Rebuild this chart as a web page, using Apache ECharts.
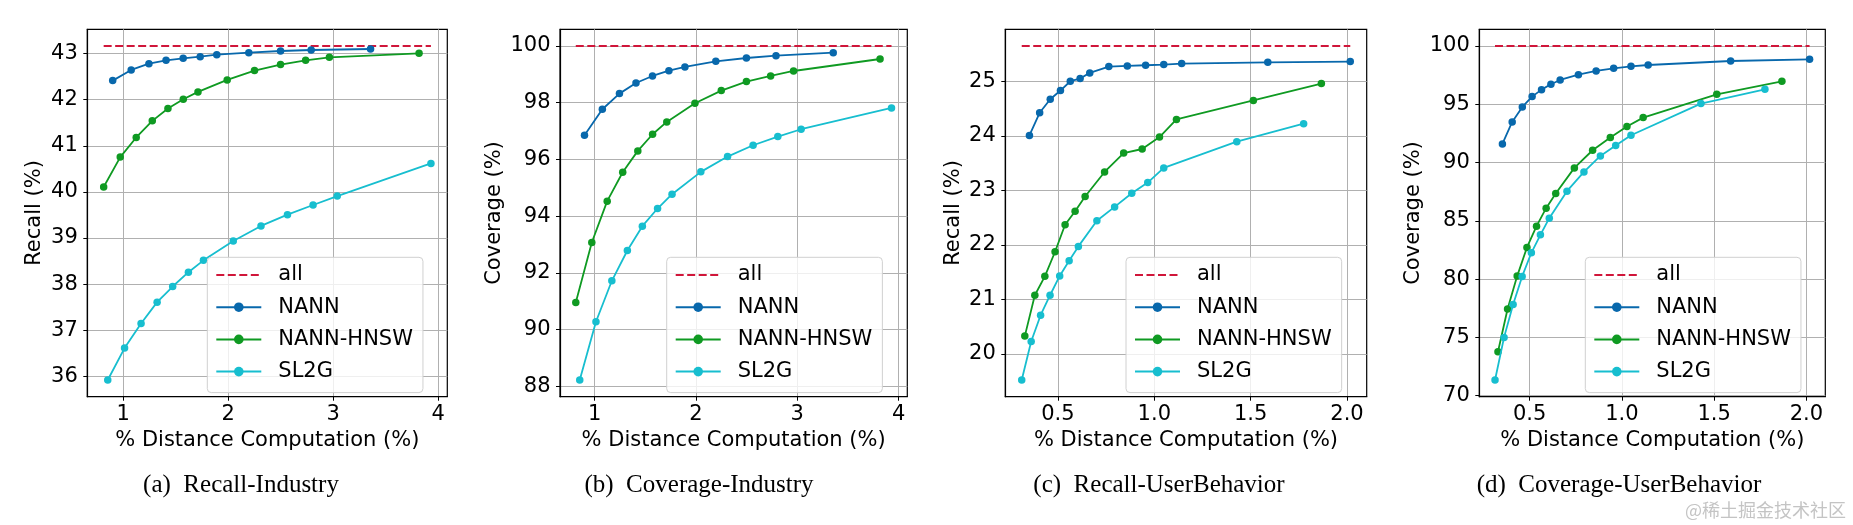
<!DOCTYPE html>
<html><head><meta charset="utf-8">
<script src="https://cdn.jsdelivr.net/npm/echarts@6/dist/echarts.min.js"></script>
<style>html,body{margin:0;padding:0;background:#fff}#c{width:1853px;height:525px}</style>
</head><body><div id="c"></div>
<script>
// ---- Industry dataset (panels a, b) ----
const xIndNANN = [0.90, 1.076, 1.245, 1.408, 1.571, 1.733, 1.891, 2.196, 2.498, 2.79, 3.355];
const xIndHNSW = [0.814, 0.972, 1.124, 1.277, 1.426, 1.572, 1.712, 1.99, 2.25, 2.498, 2.737, 2.963, 3.817];
const xIndSL2G = [0.853, 1.013, 1.17, 1.323, 1.471, 1.621, 1.764, 2.048, 2.312, 2.564, 2.808, 3.038, 3.93];
const recallIndNANN = [42.415, 42.646, 42.783, 42.856, 42.899, 42.935, 42.978, 43.022, 43.058, 43.079, 43.101];
const recallIndHNSW = [40.106, 40.756, 41.181, 41.542, 41.809, 42.011, 42.17, 42.43, 42.632, 42.762, 42.856, 42.921, 43.007];
const recallIndSL2G = [35.92, 36.613, 37.147, 37.609, 37.948, 38.259, 38.516, 38.937, 39.262, 39.507, 39.716, 39.911, 40.619];
const recallIndAll = 43.166;
const covIndNANN = [96.853, 97.769, 98.321, 98.697, 98.943, 99.131, 99.26, 99.46, 99.577, 99.66, 99.765];
const covIndHNSW = [90.959, 93.073, 94.529, 95.55, 96.302, 96.889, 97.323, 97.98, 98.427, 98.744, 98.943, 99.119, 99.542];
const covIndSL2G = [88.224, 90.278, 91.722, 92.791, 93.648, 94.27, 94.775, 95.562, 96.102, 96.501, 96.806, 97.065, 97.816];
const covIndAll = 100;

// ---- UserBehavior dataset (panels c, d) ----
const xUbNANN = [0.352, 0.405, 0.46, 0.513, 0.564, 0.615, 0.665, 0.764, 0.86, 0.955, 1.049, 1.142, 1.589, 2.017];
const xUbHNSW = [0.328, 0.38, 0.432, 0.485, 0.537, 0.589, 0.641, 0.742, 0.841, 0.937, 1.027, 1.115, 1.514, 1.867];
const xUbSL2G = [0.312, 0.361, 0.41, 0.459, 0.509, 0.558, 0.606, 0.702, 0.794, 0.883, 0.966, 1.049, 1.428, 1.775];
const recallUbNANN = [24.011, 24.426, 24.676, 24.835, 25.006, 25.055, 25.159, 25.275, 25.287, 25.299, 25.311, 25.33, 25.354, 25.366];
const recallUbHNSW = [20.324, 21.074, 21.422, 21.874, 22.369, 22.619, 22.888, 23.339, 23.687, 23.761, 23.98, 24.304, 24.652, 24.963];
const recallUbSL2G = [19.518, 20.226, 20.708, 21.075, 21.429, 21.709, 21.972, 22.442, 22.698, 22.949, 23.144, 23.413, 23.895, 24.225];
const recallUbAll = 25.653;
const covUbNANN = [91.6, 93.486, 94.771, 95.657, 96.257, 96.714, 97.086, 97.543, 97.857, 98.086, 98.257, 98.371, 98.714, 98.857];
const covUbHNSW = [73.771, 77.429, 80.257, 82.714, 84.543, 86.086, 87.343, 89.543, 91.057, 92.143, 93.086, 93.857, 95.857, 96.971];
const covUbSL2G = [71.343, 75.0, 77.829, 80.229, 82.257, 83.8, 85.229, 87.543, 89.2, 90.571, 91.457, 92.343, 95.057, 96.286];
const covUbAll = 100;

const seriesNames = ['all', 'NANN', 'NANN-HNSW', 'SL2G'];
const xAxisTitle = '% Distance Computation (%)';
const yTitles = ['Recall (%)', 'Coverage (%)', 'Recall (%)', 'Coverage (%)'];
const captions = ['(a)  Recall-Industry', '(b)  Coverage-Industry', '(c)  Recall-UserBehavior', '(d)  Coverage-UserBehavior'];

const COLORS = {all: '#d0163a', NANN: '#0868ac', 'NANN-HNSW': '#0f9a22', SL2G: '#17becf'};
const FONT = 'DejaVu Sans';

const panels = [
  {xs: [xIndNANN, xIndHNSW, xIndSL2G], ys: [recallIndNANN, recallIndHNSW, recallIndSL2G], all: recallIndAll,
   grid: {left: 87.3, top: 29.3, width: 360, height: 367.4}, xint: 1, yint: 1, xfix: 0, nameGap: 42,
   legendLeft: 207.3, cap: 241},
  {xs: [xIndNANN, xIndHNSW, xIndSL2G], ys: [covIndNANN, covIndHNSW, covIndSL2G], all: covIndAll,
   grid: {left: 560, top: 29.3, width: 347.3, height: 367.4}, xint: 1, yint: 2, xfix: 0, nameGap: 54.5,
   legendLeft: 666.7, cap: 699},
  {xs: [xUbNANN, xUbHNSW, xUbSL2G], ys: [recallUbNANN, recallUbHNSW, recallUbSL2G], all: recallUbAll,
   grid: {left: 1005.3, top: 29.3, width: 361.4, height: 367.4}, xint: 0.5, yint: 1, xfix: 1, nameGap: 41.5,
   legendLeft: 1126, cap: 1159},
  {xs: [xUbNANN, xUbHNSW, xUbSL2G], ys: [covUbNANN, covUbHNSW, covUbSL2G], all: covUbAll,
   grid: {left: 1479.3, top: 29.3, width: 346, height: 367.4}, xint: 0.5, yint: 5, xfix: 1, nameGap: 55.5,
   legendLeft: 1585.3, cap: 1619}
];

const grids = [], xAxes = [], yAxes = [], series = [], legends = [], graphics = [];
panels.forEach((p, i) => {
  const allX = [].concat(...p.xs);
  const allY = [].concat(...p.ys, [p.all]);
  const xmin = Math.min(...allX), xmax = Math.max(...allX);
  const ymin = Math.min(...allY), ymax = Math.max(...allY);
  const xm = (xmax - xmin) * 0.05, ym = (ymax - ymin) * 0.05;
  grids.push(Object.assign({show: true, borderColor: '#000', borderWidth: 1.2, backgroundColor: 'transparent'}, p.grid));
  xAxes.push({
    type: 'value', gridIndex: i, min: xmin - xm, max: xmax + xm,
    minInterval: p.xint, maxInterval: p.xint,
    name: xAxisTitle, nameLocation: 'middle', nameGap: 31,
    nameTextStyle: {fontFamily: FONT, fontSize: 21, color: '#000'},
    axisLine: {show: true, onZero: false, lineStyle: {color: '#000', width: 1.2}},
    axisTick: {show: true, length: 4, lineStyle: {color: '#000', width: 1}},
    axisLabel: {fontFamily: FONT, fontSize: 21, color: '#000', margin: 7, showMinLabel: false, showMaxLabel: false,
      formatter: v => p.xfix ? v.toFixed(1) : String(Math.round(v))},
    splitLine: {show: true, showMinLine: false, showMaxLine: false, lineStyle: {color: '#b0b0b0', width: 1}}
  });
  yAxes.push({
    type: 'value', gridIndex: i, min: ymin - ym, max: ymax + ym,
    minInterval: p.yint, maxInterval: p.yint,
    name: yTitles[i], nameLocation: 'middle', nameGap: p.nameGap,
    nameTextStyle: {fontFamily: FONT, fontSize: 21, color: '#000'},
    axisLine: {show: true, onZero: false, lineStyle: {color: '#000', width: 1.2}},
    axisTick: {show: true, length: 4, lineStyle: {color: '#000', width: 1}},
    axisLabel: {fontFamily: FONT, fontSize: 21, color: '#000', margin: 9.5, showMinLabel: false, showMaxLabel: false,
      formatter: v => String(Math.round(v))},
    splitLine: {show: true, showMinLine: false, showMaxLine: false, lineStyle: {color: '#b0b0b0', width: 1}}
  });
  series.push({
    name: 'all', type: 'line', xAxisIndex: i, yAxisIndex: i, symbol: 'none', silent: true,
    data: [[xmin, p.all], [xmax, p.all]],
    lineStyle: {color: COLORS.all, width: 1.8, type: [8, 3.5]}, itemStyle: {color: COLORS.all}, z: 2
  });
  ['NANN', 'NANN-HNSW', 'SL2G'].forEach((nm, k) => {
    series.push({
      name: nm, type: 'line', xAxisIndex: i, yAxisIndex: i, symbol: 'circle', symbolSize: 7.5,
      data: p.xs[k].map((x, j) => [x, p.ys[k][j]]),
      lineStyle: {color: COLORS[nm], width: 1.8}, itemStyle: {color: COLORS[nm]}, z: 3 + k,
      animation: false
    });
  });
  legends.push({
    data: [{name: 'all', itemStyle: {opacity: 0, borderWidth: 0}}].concat(seriesNames.slice(1)),
    orient: 'vertical', left: p.legendLeft, top: 257.3,
    itemWidth: 45, itemHeight: 12, itemGap: 10.2,
    padding: [6.7, 10, 10, 8],
    backgroundColor: 'rgba(255,255,255,0.8)', borderColor: '#d0d0d0', borderWidth: 1, borderRadius: 4,
    textStyle: {fontFamily: FONT, fontSize: 21, color: '#000', lineHeight: 22, padding: [0, 0, 0, 12]},
    selectedMode: false, z: 20
  });
  graphics.push({
    type: 'text', x: p.cap, y: 485,
    style: {text: captions[i], fontFamily: 'Liberation Serif', fontSize: 25, fill: '#000',
      textAlign: 'center', textVerticalAlign: 'middle'}
  });
});
graphics.push({
  type: 'text', x: 1846, y: 510,
  style: {text: '@稀土掘金技术社区', fontFamily: 'Noto Sans CJK SC', fontSize: 18, fill: '#c4c4c4',
    textAlign: 'right', textVerticalAlign: 'middle'}
});

const chart = echarts.init(document.getElementById('c'), null, {renderer: 'canvas'});
chart.setOption({
  animation: false,
  backgroundColor: '#fff',
  grid: grids, xAxis: xAxes, yAxis: yAxes, series: series, legend: legends,
  graphic: graphics
});
</script></body></html>
